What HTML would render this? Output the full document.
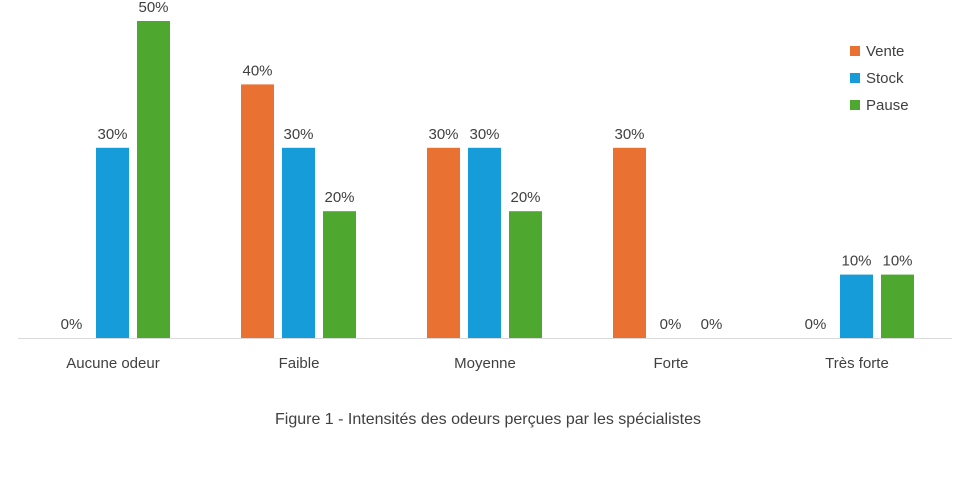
<!DOCTYPE html>
<html><head><meta charset="utf-8"><style>
html,body{margin:0;padding:0;background:#fff;}
svg text{font-family:"Liberation Sans",sans-serif;fill:#404040;}
</style></head><body>
<svg id="chart" width="970" height="479" xmlns="http://www.w3.org/2000/svg">
<line x1="18" y1="338.5" x2="952" y2="338.5" stroke="#d9d9d9" stroke-width="1"/>
<g id="bars"></g>
<g id="labels"></g>
<g>
<rect x="850" y="46" width="10" height="10" fill="#E97132"/>
<text x="866" y="56" font-size="15">Vente</text>
<rect x="850" y="73" width="10" height="10" fill="#169CD8"/>
<text x="866" y="83" font-size="15">Stock</text>
<rect x="850" y="100" width="10" height="10" fill="#4EA72E"/>
<text x="866" y="110" font-size="15">Pause</text>
</g>
<text x="488" y="424" font-size="16" text-anchor="middle">Figure 1 - Intensités des odeurs perçues par les spécialistes</text>
</svg>
<script>
const categories=["Aucune odeur","Faible","Moyenne","Forte","Très forte"];
const vente=[0,40,30,30,0];
const stock=[30,30,30,0,10];
const pause=[50,20,20,0,10];
const seriesNames=["Vente","Stock","Pause"];
const colors=["#E97132","#169CD8","#4EA72E"];
const NS="http://www.w3.org/2000/svg";
const base=338, pxPer=6.34;
const y=v=>base-v*pxPer;
const xc=i=>112+i*186;
const bars=document.getElementById('bars'), labels=document.getElementById('labels');
[vente,stock,pause].forEach((s,si)=>{
  s.forEach((v,i)=>{
    const x=xc(i)-57+si*41;
    const r=document.createElementNS(NS,'rect');
    
    
    r.setAttribute('x',x);r.setAttribute('y',y(v));
    r.setAttribute('width',33);r.setAttribute('height',base-y(v));
    r.setAttribute('fill',colors[si]);
    bars.appendChild(r);
    const t=document.createElementNS(NS,'text');
    
    
    t.setAttribute('x',x+16.5);t.setAttribute('y',y(v)-9);
    t.setAttribute('font-size','15');t.setAttribute('text-anchor','middle');
    t.textContent=v+'%';
    labels.appendChild(t);
  });
});
categories.forEach((c,i)=>{
  const t=document.createElementNS(NS,'text');
  
  
  t.setAttribute('x',xc(i)+1);t.setAttribute('y',368);
  t.setAttribute('font-size','15');t.setAttribute('text-anchor','middle');
  t.textContent=c;
  labels.appendChild(t);
});
</script>
</body></html>
